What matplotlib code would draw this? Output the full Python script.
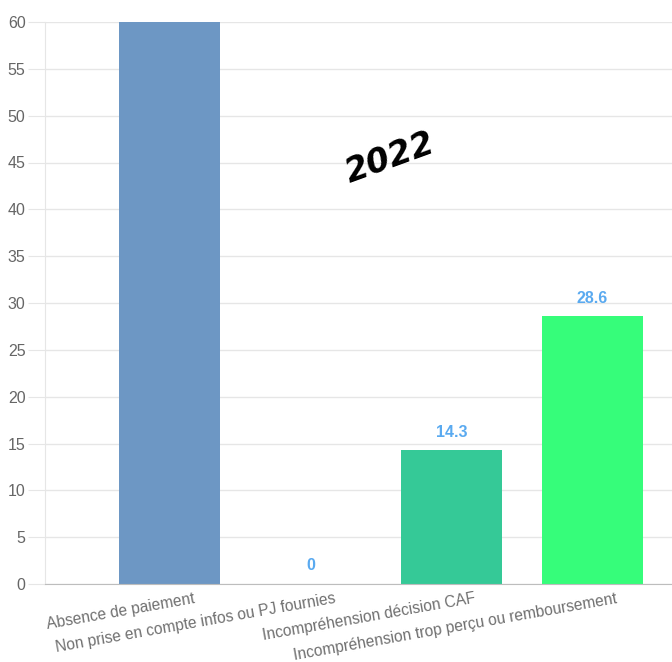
import matplotlib.pyplot as plt
from matplotlib.transforms import ScaledTranslation

categories = [
    "Absence de paiement",
    "Non prise en compte infos ou PJ fournies",
    "Incompréhension décision CAF",
    "Incompréhension trop perçu ou remboursement",
]
values = [60, 0, 14.3, 28.6]
colors = ["#6d97c4", "#5b8ff9", "#35c997", "#36fd7a"]
yticks = list(range(0, 61, 5))
ymax = 60

plt.rcParams["font.family"] = ["Liberation Sans", "DejaVu Sans"]

fig = plt.figure(figsize=(6.72, 6.62), dpi=100)
ax = fig.add_axes([45 / 672, 78 / 662, 627 / 672, 562 / 662])

x = list(range(len(categories)))
bars = ax.bar(x, values, width=0.716, color=colors, zorder=2)

ax.set_ylim(0, ymax)
ax.set_xlim(-0.887, 3.567)
ax.set_yticks(yticks)
ax.grid(axis="y", color="#e6e6e6", linewidth=1, zorder=0)

for s in ["top", "right"]:
    ax.spines[s].set_visible(False)
ax.spines["left"].set_color("#e6e6e6")
ax.spines["bottom"].set_color("#bdbdbd")

ax.tick_params(axis="y", length=12, color="#e6e6e6", labelcolor="#666666",
               labelsize=11.5, pad=2)
ax.tick_params(axis="x", length=0, labelcolor="#707070", labelsize=11.2, pad=5)

ax.set_xticks(x)
ax.set_xticklabels(categories, rotation=10, ha="right", va="top",
                   rotation_mode="anchor")
shift = ScaledTranslation(23 / 100, 0, fig.dpi_scale_trans)
for lab in ax.get_xticklabels():
    lab.set_transform(lab.get_transform() + shift)

# value labels above bars; a bar that runs past the top gets none
for xi, v in zip(x, values):
    if v >= ymax:
        continue
    ax.annotate(f"{v:g}", (xi, v), xytext=(0, 13), textcoords="offset points",
                ha="center", va="center", color="#5aaaf0",
                fontsize=11.5, fontweight="bold")

ax.text(390, 662 - 158, "2022", transform=None, fontsize=24, fontweight="bold",
        fontstyle="italic", rotation=20, ha="center", va="center",
        color="black", family="DejaVu Sans")

fig.savefig("out.png", dpi=100)
